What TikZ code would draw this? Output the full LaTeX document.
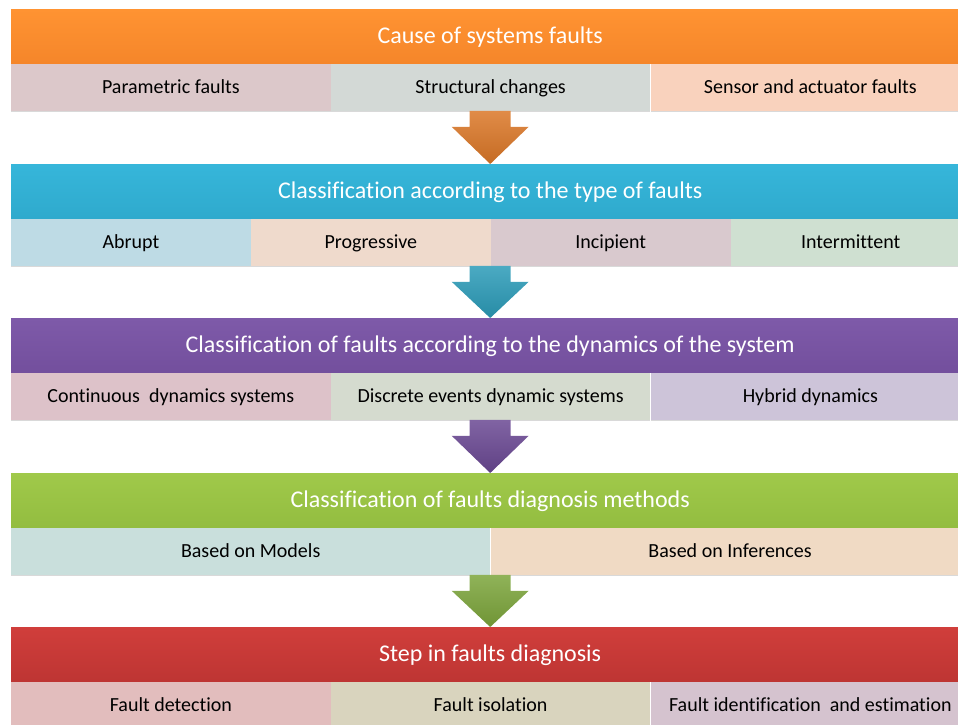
\documentclass[tikz,border=0pt]{standalone}
\usepackage{fontspec}
\setmainfont{Carlito}[Ligatures=NoCommon]
\usetikzlibrary{positioning,shadows,calc}

\definecolor{orangeT}{HTML}{FF9332}
\definecolor{orangeB}{HTML}{F5862A}
\definecolor{cyanT}{HTML}{36B6DA}
\definecolor{cyanB}{HTML}{2FAACD}
\definecolor{purpleT}{HTML}{7E5AA9}
\definecolor{purpleB}{HTML}{734F9D}
\definecolor{greenT}{HTML}{A0C94A}
\definecolor{greenB}{HTML}{93BD40}
\definecolor{redT}{HTML}{D03E3B}
\definecolor{redB}{HTML}{BE3533}
\definecolor{paramC}{HTML}{DCC8CA}
\definecolor{structC}{HTML}{D3D9D6}
\definecolor{sensorC}{HTML}{F9D2BD}
\definecolor{abruptC}{HTML}{BEDBE5}
\definecolor{progC}{HTML}{EFDACC}
\definecolor{incipC}{HTML}{D9C9CE}
\definecolor{intermC}{HTML}{CFE0D1}
\definecolor{contC}{HTML}{DDC2C9}
\definecolor{discC}{HTML}{D5DBCF}
\definecolor{hybridC}{HTML}{CDC4D9}
\definecolor{modelC}{HTML}{C9DFDC}
\definecolor{inferC}{HTML}{F0DAC4}
\definecolor{detectC}{HTML}{E2BDBD}
\definecolor{isolC}{HTML}{D9D4BE}
\definecolor{identC}{HTML}{D5C3CF}

\begin{document}
\begin{tikzpicture}[x=1pt, y=-1pt,
    head/.style={anchor=north west, minimum width=958pt, minimum height=54pt, inner sep=0pt, text=white,
      text height=20pt, text depth=5pt, font=\fontsize{24}{28}\selectfont},
    cell/.style={anchor=north west, minimum height=47pt, inner sep=0pt, text height=16pt, text depth=4pt,
      font=\fontsize{20}{24}\selectfont, drop shadow={opacity=0.3, shadow xshift=0pt, shadow yshift=-1.5pt}}]
  \useasboundingbox (0,0) rectangle (958,725);

  % causes
  \node[head, top color=orangeT, bottom color=orangeB] (cause) at (11,9) {Cause of systems faults};
  \node[cell, fill=paramC, minimum width=319.33pt] (param) at (cause.south west) {Parametric faults};
  \node[cell, fill=structC, minimum width=319.33pt] (struct) at (param.north east) {Structural changes};
  \node[cell, fill=sensorC, minimum width=319.33pt] (sensor) at (struct.north east) {Sensor and actuator faults};

  % type of faults
  \node[head, top color=cyanT, bottom color=cyanB] (type) at (11,164) {Classification according to the type of faults};
  \node[cell, fill=abruptC, minimum width=239.5pt] (abrupt) at (type.south west) {Abrupt};
  \node[cell, fill=progC, minimum width=239.5pt] (prog) at (abrupt.north east) {Progressive};
  \node[cell, fill=incipC, minimum width=239.5pt] (incip) at (prog.north east) {Incipient};
  \node[cell, fill=intermC, minimum width=239.5pt] (interm) at (incip.north east) {Intermittent};

  % dynamics
  \node[head, top color=purpleT, bottom color=purpleB] (dyn) at (11,318) {Classification of faults according to the dynamics of the system};
  \node[cell, fill=contC, minimum width=319.33pt] (cont) at (dyn.south west) {Continuous\ \ dynamics systems};
  \node[cell, fill=discC, minimum width=319.33pt] (disc) at (cont.north east) {Discrete events dynamic systems};
  \node[cell, fill=hybridC, minimum width=319.33pt] (hybrid) at (disc.north east) {Hybrid dynamics};

  % methods
  \node[head, top color=greenT, bottom color=greenB] (meth) at (11,473) {Classification of faults diagnosis methods};
  \node[cell, fill=modelC, minimum width=479pt] (model) at (meth.south west) {Based on Models};
  \node[cell, fill=inferC, minimum width=479pt] (infer) at (model.north east) {Based on Inferences};

  % steps
  \node[head, top color=redT, bottom color=redB] (steps) at (11,627) {Step in faults diagnosis};
  \node[cell, fill=detectC, minimum width=319.33pt] (detect) at (steps.south west) {Fault detection};
  \node[cell, fill=isolC, minimum width=319.33pt] (isol) at (detect.north east) {Fault isolation};
  \node[cell, fill=identC, minimum width=319.33pt] (ident) at (isol.north east) {Fault identification\ \ and estimation};

  % block arrows between the bands
  \foreach \a/\b/\c in {param/type/DB7727, abrupt/dyn/2B9BB8, cont/meth/6A4893, model/steps/7CA53B} {
    \definecolor{arrC}{HTML}{\c}
    \path[top color=arrC!85!white, bottom color=arrC!90!black]
      let \p1=(\a.south), \p2=(\b.north) in
      (\x2-20.5pt,\y1) -- (\x2+20.5pt,\y1) -- (\x2+20.5pt,\y1-16pt) -- (\x2+38.5pt,\y1-16pt)
      -- (\x2,\y2) -- (\x2-38.5pt,\y1-16pt) -- (\x2-20.5pt,\y1-16pt) -- cycle;
  }
\end{tikzpicture}
\end{document}
